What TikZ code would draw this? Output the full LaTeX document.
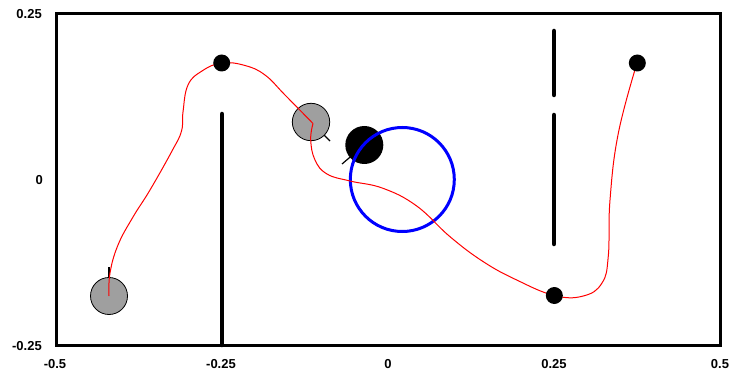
\documentclass[tikz,border=0pt]{standalone}
\usepackage{fontspec}
\setmainfont{Liberation Sans}
\begin{document}
\begin{tikzpicture}[x=1pt,y=-1pt,
  ticklab/.style={font=\fontsize{13}{13}\selectfont\bfseries, inner sep=0pt},
  framestyle/.style={line width=3pt},
  wall/.style={line width=4.5pt, line cap=round},
  robot/.style={fill=gray!75, draw=black, line width=0.8pt},
  heading/.style={line width=1.2pt, black},
  waypoint/.style={fill=black},
  path/.style={red, line width=1pt}]
\useasboundingbox (0,0) rectangle (730,371);
\fill[white] (0,0) rectangle (730,371);
% frame
\draw[framestyle] (56,14) rectangle (720,345);
% tick labels
\node[ticklab, anchor=east] (y1) at (42,14) {0.25};
\node[ticklab, anchor=east] (y0) at (43,180) {0};
\node[ticklab, anchor=east] (y2) at (42,346) {-0.25};
\node[ticklab] (x1) at (55,364) {-0.5};
\node[ticklab] (x2) at (221,364) {-0.25};
\node[ticklab] (x3) at (388,364) {0};
\node[ticklab] (x4) at (554,364) {0.25};
\node[ticklab] (x5) at (720,364) {0.5};
% walls
\draw[wall] (222,114) -- (222,345);
\draw[wall] (554,31) -- (554,95);
\draw[wall] (554,115) -- (554,244);
% heading ticks
\draw[heading] (109,296) -- (109,267);
\draw[heading] (311,122) -- (330,141);
\draw[heading] (364.3,145) -- (342,164);
% robots
\fill[robot] (109,296) circle (18.5);
\fill[robot] (311,122) circle (18.7);
\fill[black] (364.3,145) circle (19);
% blue circle
\draw[blue, line width=3pt] (402.3,179.5) circle (52);
% red path
\draw[path] plot[smooth, tension=0.7] coordinates {
 (109,296) (110,273) (118,245) (133,217) (150,190) (172,151)
 (181.5,131) (183,112) (188,85) (202,71) (221.7,63) (245,65.5)
 (265,75) (285,95) (313,123.5)};
\draw[path] plot[smooth, tension=0.7] coordinates {
 (313,123.5) (310.7,140) (315,160) (327,174) (350,181) (383,188.3)
 (416.7,206) (450,236.7) (483.3,261.7) (516.7,280) (554.3,295.5)
 (583.3,296) (602,283) (608.3,256) (610,200) (618.3,133.3) (637,63)};
% waypoints
\fill[waypoint] (221.7,63) circle (8.5);
\fill[waypoint] (637.3,63) circle (8.5);
\fill[waypoint] (554.3,295.5) circle (8.5);
\end{tikzpicture}
\end{document}
